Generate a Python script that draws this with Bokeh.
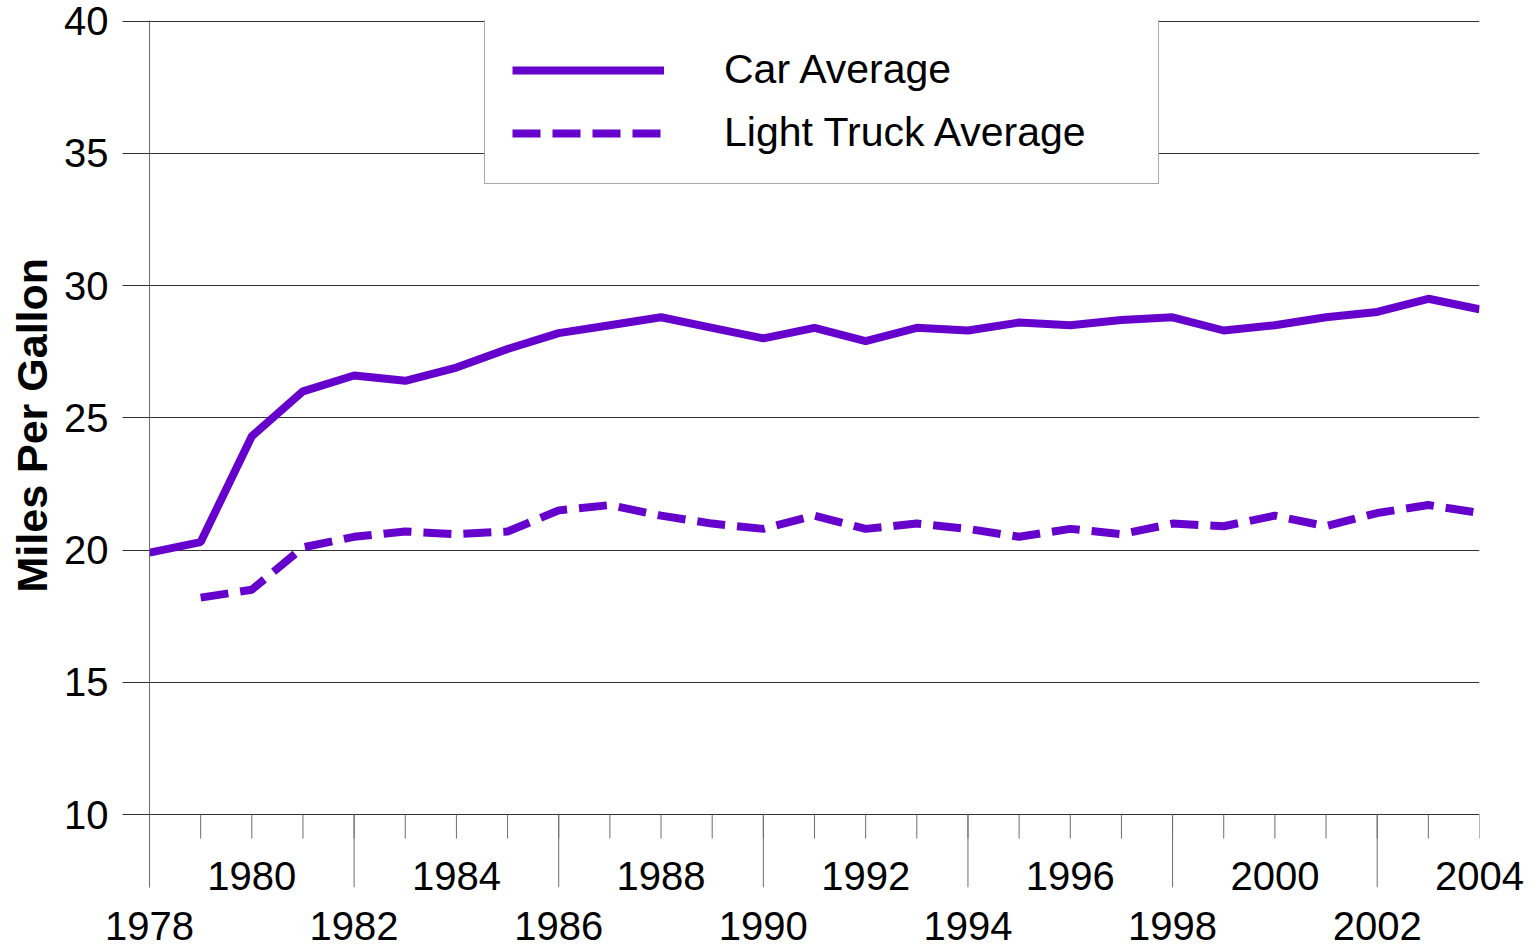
from bokeh.plotting import figure
from bokeh.models import FixedTicker, LinearAxis, Legend, LegendItem, Range1d, Title
from bokeh.embed import file_html
from bokeh.resources import INLINE

# ---- data ----
years = list(range(1978, 2005))
car_mpg = [19.9, 20.3, 24.3, 26.0, 26.6, 26.4, 26.9, 27.6, 28.2, 28.5, 28.8,
           28.4, 28.0, 28.4, 27.9, 28.4, 28.3, 28.6, 28.5, 28.7, 28.8, 28.3,
           28.5, 28.8, 29.0, 29.5, 29.1]
truck_years = list(range(1979, 2005))
truck_mpg = [18.2, 18.5, 20.1, 20.5, 20.7, 20.6, 20.7, 21.5, 21.7, 21.3, 21.0,
             20.8, 21.3, 20.8, 21.0, 20.8, 20.5, 20.8, 20.6, 21.0, 20.9, 21.3,
             20.9, 21.4, 21.7, 21.4]
y_ticks = [10, 15, 20, 25, 30, 35, 40]
upper_row_years = [1980, 1984, 1988, 1992, 1996, 2000, 2004]
lower_row_years = [1978, 1982, 1986, 1990, 1994, 1998, 2002]
series_names = ["Car Average", "Light Truck Average"]
y_title = "Miles Per Gallon"

PURPLE = "#6600CC"
AXIS_GRAY = "#6e6e6e"
FONT = "Liberation Sans"

# ---- geometry (figure pixels) ----
W, H = 1532, 946
frame_left, frame_right = 149, 1479
frame_top_px = 20
y10_px = 814          # pixel of y = 10
long_tick_px = 887    # where long ticks end (frame bottom)
px_per_unit = (y10_px - frame_top_px) / (40 - 10)
y_lo = 10 - (long_tick_px - y10_px) / px_per_unit
short_tick_y = 10 - 24 / px_per_unit

p = figure(width=W, height=H, output_backend="svg", toolbar_location=None,
           x_range=Range1d(1978, 2004), y_range=Range1d(y_lo, 40.02),
           min_border_left=frame_left, min_border_right=W - frame_right,
           min_border_top=frame_top_px, min_border_bottom=H - long_tick_px)
p.outline_line_color = None
p.background_fill_color = "white"
p.border_fill_color = "white"
p.xgrid.visible = False

# y axis
p.yaxis.ticker = FixedTicker(ticks=y_ticks)
p.yaxis.major_tick_out = 27
p.yaxis.major_tick_in = 0
p.yaxis.minor_tick_line_color = None
p.yaxis.axis_line_color = AXIS_GRAY
p.yaxis.major_tick_line_color = "#333333"
p.yaxis.major_label_text_font = FONT
p.yaxis.major_label_text_font_size = "40px"
p.yaxis.major_label_text_color = "black"
p.yaxis.major_label_standoff = 14
p.ygrid.ticker = FixedTicker(ticks=y_ticks)
p.ygrid.grid_line_color = "#333333"
p.ygrid.grid_line_width = 1

# y axis title (as a side title so it can be shifted along the axis)
t = Title(text=y_title, align="left", offset=295, standoff=11,
          text_font=FONT, text_font_size="43px", text_font_style="bold",
          text_color="black")
p.add_layout(t, "left")

# x axis: upper row of labels
xa = p.xaxis[0]
xa.ticker = FixedTicker(ticks=upper_row_years)
xa.axis_line_color = None
xa.major_tick_line_color = None
xa.minor_tick_line_color = None
xa.major_tick_out = 0
xa.major_tick_in = 0
xa.minor_tick_out = 0
xa.major_label_standoff = -26
xa.major_label_text_font = FONT
xa.major_label_text_font_size = "40px"
xa.major_label_text_color = "black"

# x axis: lower row of labels
xb = LinearAxis(ticker=FixedTicker(ticks=lower_row_years))
xb.axis_line_color = None
xb.major_tick_line_color = None
xb.minor_tick_line_color = None
xb.major_tick_out = 0
xb.major_tick_in = 0
xb.minor_tick_out = 0
xb.major_label_standoff = 19
xb.major_label_text_font = FONT
xb.major_label_text_font_size = "40px"
xb.major_label_text_color = "black"
p.add_layout(xb, "below")

# tick marks along y = 10
p.segment(x0=years, y0=[10] * len(years), x1=years, y1=[short_tick_y] * len(years),
          line_color=AXIS_GRAY, line_width=1)
p.segment(x0=lower_row_years, y0=[10] * len(lower_row_years),
          x1=lower_row_years, y1=[y_lo] * len(lower_row_years),
          line_color=AXIS_GRAY, line_width=1)

# data lines
r_car = p.line(years, car_mpg, line_color=PURPLE, line_width=8)
r_truck = p.line(truck_years, truck_mpg, line_color=PURPLE, line_width=8,
                 line_dash="28 12")

legend = Legend(items=[LegendItem(label=series_names[0], renderers=[r_car]),
                       LegendItem(label=series_names[1], renderers=[r_truck])],
                location=(484 - frame_left, long_tick_px - 184))
legend.label_text_font = FONT
legend.label_text_font_size = "41px"
legend.label_text_color = "black"
legend.glyph_width = 152
legend.glyph_height = 40
legend.label_height = 40
legend.label_width = 407
legend.label_standoff = 60
legend.spacing = 16
legend.padding = 27
legend.margin = 0
legend.border_line_color = "#555555"
legend.border_line_width = 1
legend.background_fill_color = "white"
legend.background_fill_alpha = 1.0
p.add_layout(legend, "center")

open("out.html", "w").write(file_html(p, INLINE))
